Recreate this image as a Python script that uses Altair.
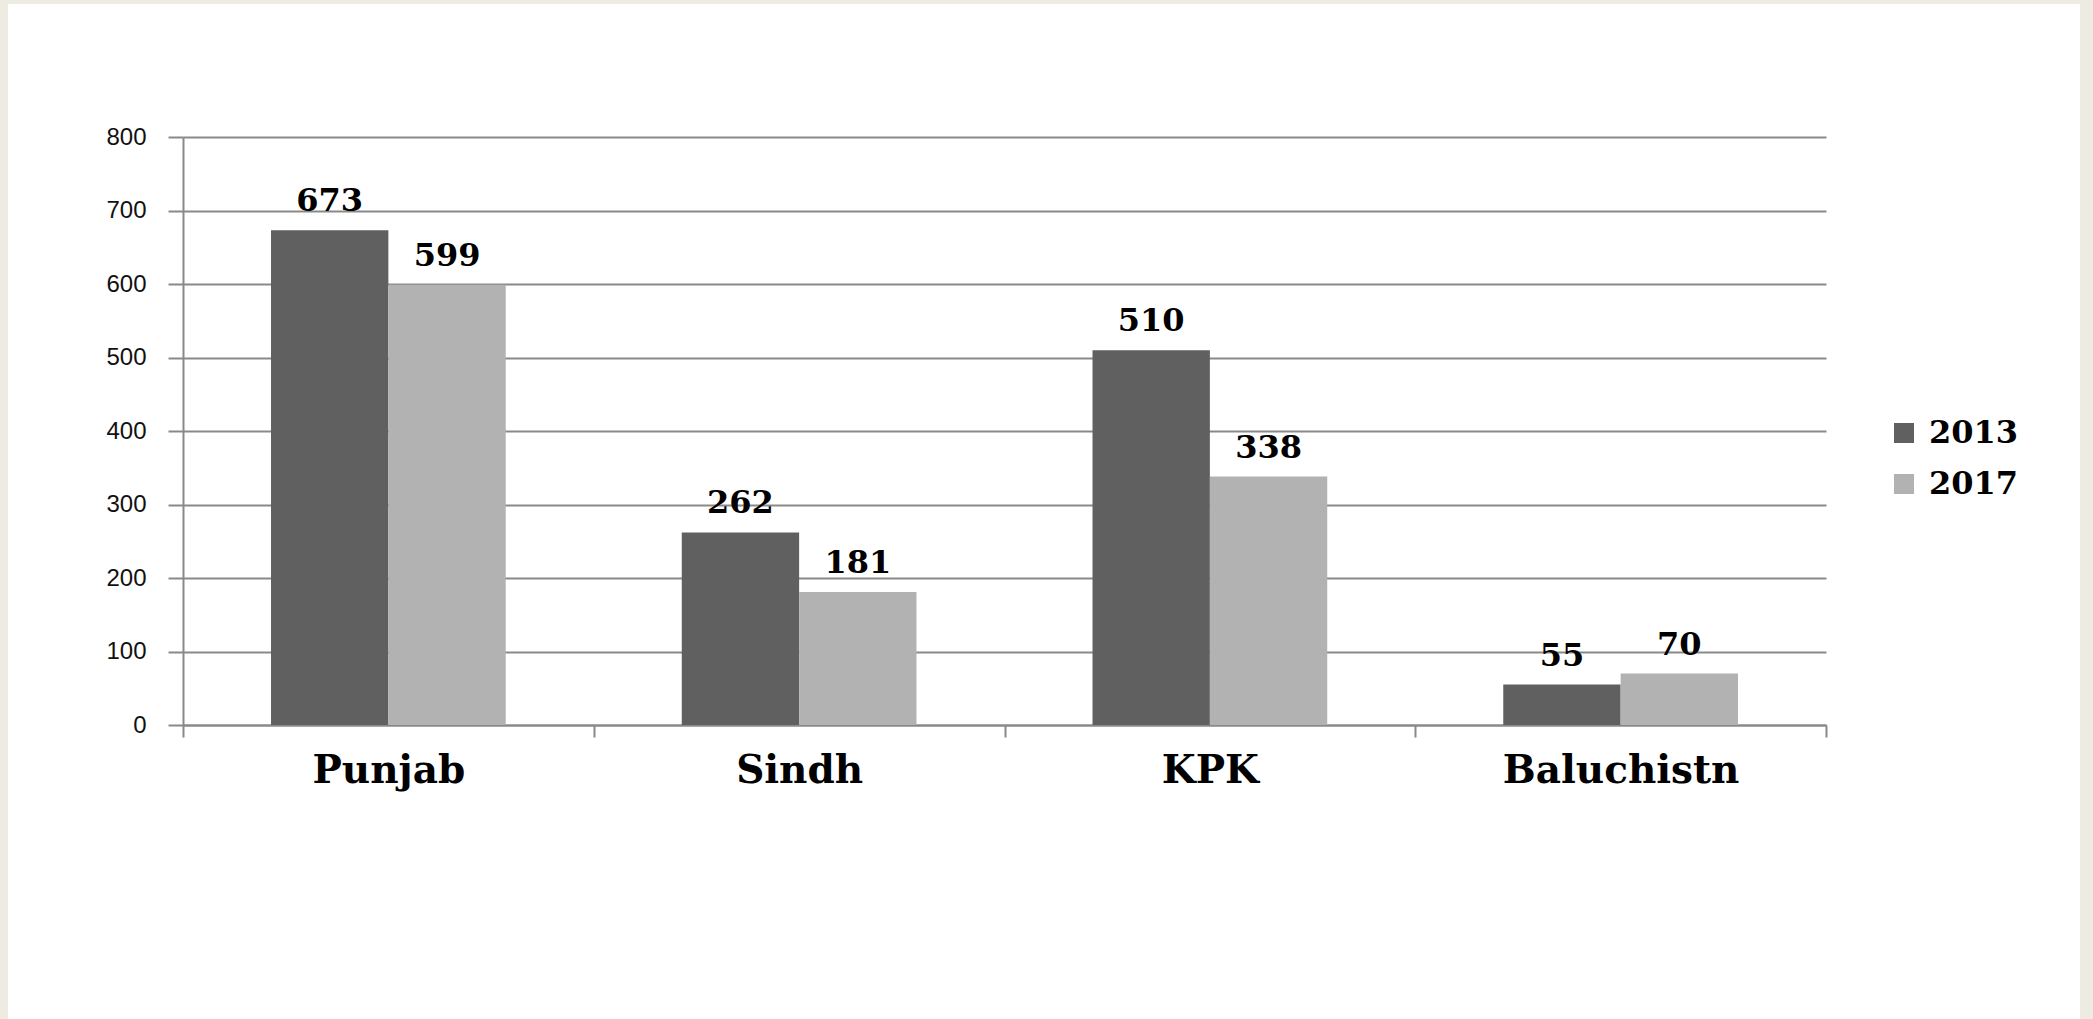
import altair as alt
import pandas as pd

categories = ["Punjab", "Sindh", "KPK", "Baluchistn"]
years = ["2013", "2017"]
values_2013 = [673, 262, 510, 55]
values_2017 = [599, 181, 338, 70]
y_ticks = [0, 100, 200, 300, 400, 500, 600, 700, 800]
colors = ["#606060", "#b2b2b2"]

rows = []
for c, a, b in zip(categories, values_2013, values_2017):
    rows.append({"Province": c, "Year": years[0], "Value": a})
    rows.append({"Province": c, "Year": years[1], "Value": b})
df = pd.DataFrame(rows)

W, H = 1643, 588
PAD_L, PAD_T = 183, 137
PAD_R = 2093 - PAD_L - W
PAD_B = 1019 - PAD_T - H
GRID = "#898989"
BEIGE = "#EEEBE3"

x_enc = alt.X(
    "Province:N",
    sort=categories,
    scale=alt.Scale(paddingInner=0, paddingOuter=0),
    axis=alt.Axis(
        title=None,
        labelAngle=0,
        tickBand="extent",
        tickSize=12,
        tickColor=GRID,
        tickWidth=2,
        domainColor=GRID,
        domainWidth=2,
        labelFont="DejaVu Serif",
        labelFontWeight="bold",
        labelFontSize=39,
        labelColor="#000000",
        labelPadding=14,
        labelLimit=0,
        grid=False,
    ),
)
xoff = alt.XOffset("Year:N", sort=years, scale=alt.Scale(paddingInner=0, paddingOuter=0.75))
y_enc = alt.Y(
    "Value:Q",
    scale=alt.Scale(domain=[0, 800], nice=False),
    axis=alt.Axis(
        title=None,
        values=y_ticks,
        grid=True,
        gridColor=GRID,
        gridWidth=2,
        tickColor=GRID,
        tickWidth=2,
        tickSize=15,
        domainColor=GRID,
        domainWidth=2,
        labelFont="Liberation Sans",
        labelFontSize=24,
        labelColor="#111111",
        labelPadding=22,
    ),
)

bars = alt.Chart(df).mark_bar().encode(
    x=x_enc,
    xOffset=xoff,
    y=y_enc,
    color=alt.Color(
        "Year:N",
        sort=years,
        scale=alt.Scale(domain=years, range=colors),
        legend=alt.Legend(
            title=None,
            orient="none",
            legendX=1705,
            legendY=280,
            symbolType="square",
            symbolSize=400,
            symbolStrokeWidth=0,
            labelFont="DejaVu Serif",
            labelFontWeight="bold",
            labelFontSize=32,
            labelColor="#000000",
            labelOffset=9,
            rowPadding=19,
        ),
    ),
)

labels = alt.Chart(df).mark_text(
    font="DejaVu Serif",
    fontWeight="bold",
    fontSize=32,
    color="#000000",
    baseline="alphabetic",
    dy=-19,
).encode(x=x_enc, xOffset=xoff, y=y_enc, text=alt.Text("Value:Q"))

one = pd.DataFrame({"k": [0]})
left_strip = alt.Chart(one).mark_rect(color=BEIGE).encode(
    x=alt.value(-PAD_L), x2=alt.value(-PAD_L + 8), y=alt.value(-PAD_T), y2=alt.value(H + PAD_B)
)
top_strip = alt.Chart(one).mark_rect(color=BEIGE).encode(
    x=alt.value(-PAD_L), x2=alt.value(W + PAD_R), y=alt.value(-PAD_T), y2=alt.value(-PAD_T + 4)
)
right_strip = alt.Chart(one).mark_rect(color=BEIGE).encode(
    x=alt.value(2080 - PAD_L), x2=alt.value(W + PAD_R), y=alt.value(-PAD_T), y2=alt.value(H + PAD_B)
)

chart = (
    alt.layer(left_strip, top_strip, right_strip, bars, labels)
    .properties(
        width=W,
        height=H,
        background="#ffffff",
        padding={"left": PAD_L, "top": PAD_T, "right": PAD_R, "bottom": PAD_B},
        autosize=alt.AutoSizeParams(type="none"),
    )
    .configure_view(stroke=None)
)

chart.save("out.html", embed_options={"renderer": "svg", "actions": False})
